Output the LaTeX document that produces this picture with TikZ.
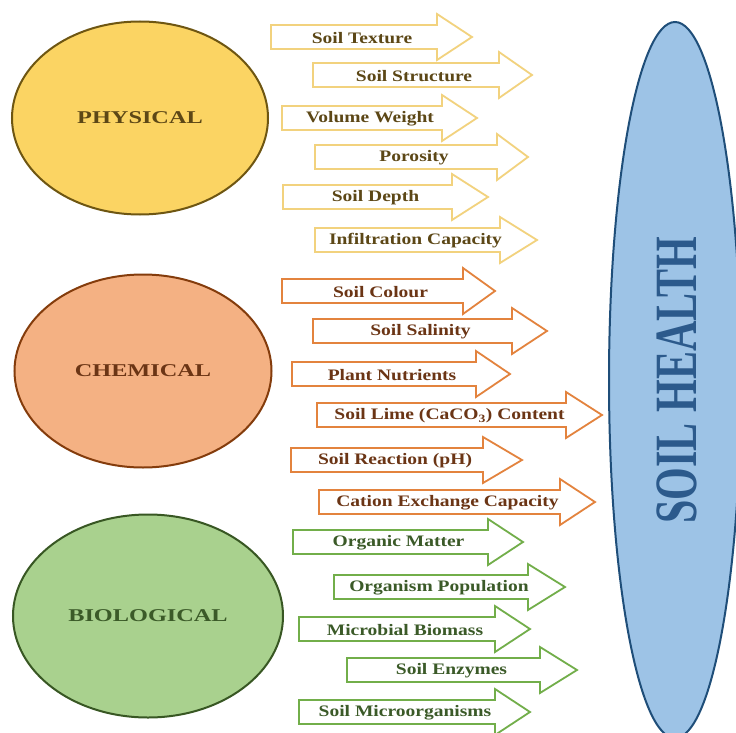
\documentclass[tikz,border=0pt]{standalone}
\usepackage{fontspec}
\setmainfont{Liberation Serif}
\newfontfamily\labelfont[FakeStretch=1.22]{Liberation Serif}
\newfontfamily\groupfont[FakeStretch=1.35]{Liberation Serif}
\newfontfamily\healthfont[FakeStretch=0.7]{Liberation Serif}
\usetikzlibrary{shapes.geometric}

\definecolor{physfill}{HTML}{FBD463}
\definecolor{physline}{HTML}{6E5612}
\definecolor{physarrow}{HTML}{F2D27E}
\definecolor{phystext}{HTML}{5C4716}
\definecolor{chemfill}{HTML}{F4B183}
\definecolor{chemline}{HTML}{843C0C}
\definecolor{chemarrow}{HTML}{E3833E}
\definecolor{chemtext}{HTML}{6B3515}
\definecolor{biofill}{HTML}{A9D18E}
\definecolor{bioline}{HTML}{385723}
\definecolor{bioarrow}{HTML}{72AE4A}
\definecolor{biotext}{HTML}{3B5A28}
\definecolor{healthfill}{HTML}{9DC3E6}
\definecolor{healthline}{HTML}{1F4E79}
\definecolor{healthtext}{HTML}{2C5A8C}

% block arrow: style, name, left x, mid y, head x, tip x, label
\newcommand{\factor}[7]{
\draw[#1] ({#3},{#4-12}) -- ({#5},{#4-12}) -- ({#5},{#4-23}) -- ({#6},{#4}) -- ({#5},{#4+23}) -- ({#5},{#4+12}) -- ({#3},{#4+12}) -- cycle;
\node[#1 text] (#2) at ({(#3+#5)/2+8},{#4+1}) {#7};
}

\begin{document}
\begin{tikzpicture}[x=1pt,y=-1pt,
  group/.style={ellipse,line width=2pt,inner sep=0pt,font=\groupfont\bfseries\fontsize{18}{18}\selectfont},
  phys/.style={draw=physarrow,fill=white,line width=1.8pt},
  chem/.style={draw=chemarrow,fill=white,line width=1.8pt},
  bio/.style={draw=bioarrow,fill=white,line width=1.8pt},
  phys text/.style={text=phystext,inner sep=0pt,font=\labelfont\bfseries\fontsize{16}{16}\selectfont},
  chem text/.style={text=chemtext,inner sep=0pt,font=\labelfont\bfseries\fontsize{16}{16}\selectfont},
  bio text/.style={text=biotext,inner sep=0pt,font=\labelfont\bfseries\fontsize{16}{16}\selectfont}]
\useasboundingbox[fill=white] (0,0) rectangle (736,733);

\node[group,draw=physline,fill=physfill,text=phystext,minimum width=256,minimum height=193] (physical) at (140,118) {PHYSICAL};
\node[group,draw=chemline,fill=chemfill,text=chemtext,minimum width=257,minimum height=193] (chemical) at (143,371) {CHEMICAL};
\node[group,draw=bioline,fill=biofill,text=biotext,minimum width=270,minimum height=203] (biological) at (148,616) {BIOLOGICAL};

\node[ellipse,draw=healthline,fill=healthfill,line width=2pt,minimum width=132,minimum height=716] (health) at (675,380) {};
\node[rotate=90,text=healthtext,inner sep=0pt,font=\healthfont\bfseries\fontsize{60}{60}\selectfont] (healthlabel) at (677,380) {SOIL HEALTH};

% physical
\factor{phys}{texture}{271}{37}{437}{472}{Soil Texture}
\factor{phys}{structure}{313}{75}{499}{532}{Soil Structure}
\factor{phys}{volweight}{282}{118}{442}{477}{Volume Weight}
\factor{phys}{porosity}{315}{157}{497}{528}{Porosity}
\factor{phys}{depth}{283}{197}{452}{488}{Soil Depth}
\factor{phys}{infiltration}{315}{240}{500}{537}{Infiltration Capacity}
% chemical
\factor{chem}{colour}{282}{291}{463}{495}{Soil Colour}
\factor{chem}{salinity}{313}{331}{512}{547}{Soil Salinity}
\factor{chem}{nutrients}{292}{374}{476}{510}{Plant Nutrients}
\factor{chem}{lime}{317}{415}{566}{602}{Soil Lime (CaCO\textsubscript{3}) Content}
\factor{chem}{reaction}{291}{460}{483}{522}{Soil Reaction (pH)}
\factor{chem}{cec}{319}{502}{560}{595}{Cation Exchange Capacity}
% biological
\factor{bio}{organic}{293}{542}{488}{523}{Organic Matter}
\factor{bio}{population}{334}{587}{528}{565}{Organism Population}
\factor{bio}{biomass}{299}{629}{495}{530}{Microbial Biomass}
\factor{bio}{enzymes}{347}{670}{540}{577}{Soil Enzymes}
\factor{bio}{microorg}{299}{712}{495}{530}{Soil Microorganisms}
\end{tikzpicture}
\end{document}
